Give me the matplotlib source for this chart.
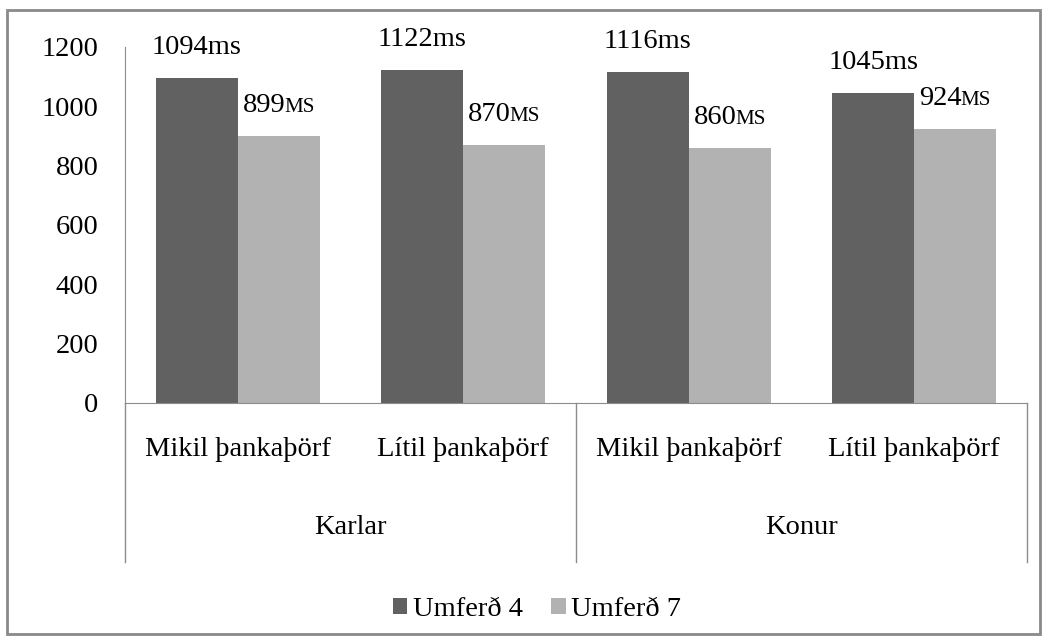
import matplotlib
matplotlib.use("Agg")
import matplotlib.pyplot as plt
import numpy as np
from matplotlib.offsetbox import TextArea, HPacker, AnnotationBbox
from matplotlib.patches import Rectangle

categories = ["Mikil þankaþörf", "Lítil þankaþörf", "Mikil þankaþörf", "Lítil þankaþörf"]
groups = ["Karlar", "Konur"]
umferd4 = [1094, 1122, 1116, 1045]
umferd7 = [899, 870, 860, 924]
series_names = ["Umferð 4", "Umferð 7"]
yticks = [0, 200, 400, 600, 800, 1000, 1200]

DARK = "#616161"
LIGHT = "#b2b2b2"
LINE = "#8c8c8c"
FONT = "Liberation Serif"
FS = 20.5

fig = plt.figure(figsize=(10.47, 6.42), dpi=100)
fig.patches.append(Rectangle((0.0065, 0.012), 0.987, 0.973, transform=fig.transFigure,
                             fill=False, edgecolor="#8a8a8a", linewidth=2))

ax = fig.add_axes([0.1194, 0.3723, 0.8615, 0.5545])
x = np.arange(len(categories))
w = 0.364
b4 = ax.bar(x - w / 2, umferd4, w, color=DARK, label=series_names[0])
b7 = ax.bar(x + w / 2, umferd7, w, color=LIGHT, label=series_names[1])

ax.set_xlim(-0.5, 3.5)
ax.set_ylim(0, 1200)
ax.set_yticks(yticks)
ax.set_yticklabels([str(t) for t in yticks], fontfamily=FONT, fontsize=FS)
ax.tick_params(axis="y", length=0, pad=19)
ax.set_xticks([])
for s in ["top", "right"]:
    ax.spines[s].set_visible(False)
for s in ["left", "bottom"]:
    ax.spines[s].set_color(LINE)

# value labels: plain "ms" for the first series, small caps for the second
for xi, v in zip(x - w / 2, umferd4):
    ax.annotate(f"{v}ms", (xi, v), xytext=(0, 13), textcoords="offset points",
                ha="center", va="bottom", fontsize=FS, fontfamily=FONT)
for xi, v in zip(x + w / 2, umferd7):
    box = HPacker(children=[TextArea(str(v), textprops=dict(size=FS, family=FONT)),
                            TextArea("MS", textprops=dict(size=FS * 0.74, family=FONT))],
                  align="baseline", pad=0, sep=-1)
    ab = AnnotationBbox(box, (xi, v), xybox=(0, 13), xycoords="data",
                        boxcoords="offset points", box_alignment=(0.5, 0),
                        frameon=False, annotation_clip=False)
    ax.add_artist(ab)

# two-level category axis
tr = ax.get_xaxis_transform()
for xs in [-0.5, 1.5, 3.5]:
    ax.plot([xs, xs], [0, -0.447], transform=tr, color=LINE, lw=1, clip_on=False)
for xi, c in zip(x, categories):
    ax.text(xi, -0.132, c, transform=tr, ha="center", va="center",
            fontsize=FS, fontfamily=FONT)
for gi, g in enumerate(groups):
    ax.text(gi * 2 + 0.5, -0.351, g, transform=tr, ha="center", va="center",
            fontsize=FS, fontfamily=FONT)

fig.legend(handles=[b4, b7], loc="center", bbox_to_anchor=(0.513, 0.05), ncol=2,
           frameon=False, prop=dict(family=FONT, size=FS), handlelength=0.5,
           handleheight=0.5, handletextpad=0.2, columnspacing=1.0)

fig.savefig("out.png", dpi=100)
